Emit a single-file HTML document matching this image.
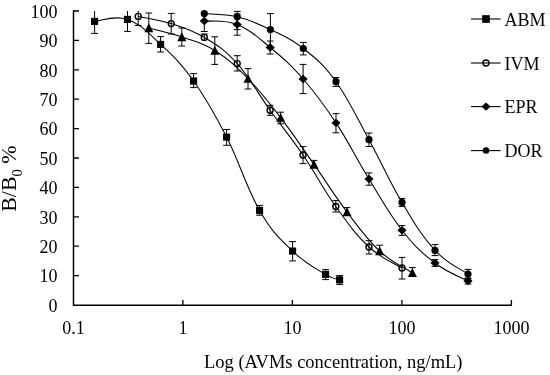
<!DOCTYPE html>
<html><head><meta charset="utf-8"><style>
html,body{margin:0;padding:0;background:#fff;}
svg{display:block;will-change:transform;}
text{font-family:"Liberation Serif",serif;font-size:18px;fill:#000;}
</style></head><body>
<svg width="550" height="375" viewBox="0 0 550 375">
<rect width="550" height="375" fill="#fff"/>
<g fill="none" stroke="#000" stroke-width="1.5">
<path d="M73.5,10.2V305.15H512.0" stroke-linejoin="miter"/>
</g>
<g fill="none" stroke="#000" stroke-width="1.3">
<path d="M73.5,275.60H79M73.5,246.20H79M73.5,216.80H79M73.5,187.40H79M73.5,158.00H79M73.5,128.60H79M73.5,99.20H79M73.5,69.80H79M73.5,40.40H79M73.5,11.00H79M182.90,305V300M292.40,305V300M401.90,305V300M511.40,305V300"/>
</g>
<g fill="none" stroke="#000" stroke-width="1.05">
<path d="M94.60,21.40 C101.18,21.00 114.30,14.80 127.50,19.40 C140.70,24.00 147.38,32.08 160.60,44.40 C173.82,56.72 180.40,62.46 193.60,81.00 C206.80,99.54 213.40,111.22 226.60,137.10 C239.80,162.98 246.40,187.60 259.60,210.40 C272.80,233.20 279.40,238.30 292.60,251.10 C305.80,263.90 316.20,268.66 325.60,274.40 C335.00,280.14 336.80,278.72 339.60,279.80"/>
<path d="M138.20,16.40 C144.80,17.84 157.98,19.40 171.20,23.60 C184.42,27.80 191.10,29.40 204.30,37.40 C217.50,45.40 224.04,49.02 237.20,63.60 C250.36,78.18 256.94,92.02 270.10,110.30 C283.26,128.58 289.86,135.76 303.00,155.00 C316.14,174.24 322.60,188.10 335.80,206.50 C349.00,224.90 355.76,234.70 369.00,247.00 C382.24,259.30 395.40,263.80 402.00,268.00"/>
<path d="M148.80,28.00 C155.40,29.80 168.60,32.50 181.80,37.00 C195.00,41.50 201.56,42.18 214.80,50.50 C228.04,58.82 234.84,65.18 248.00,78.60 C261.16,92.02 267.40,100.44 280.60,117.60 C293.80,134.76 300.72,145.52 314.00,164.40 C327.28,183.28 333.88,194.68 347.00,212.00 C360.12,229.32 366.52,238.84 379.60,251.00 C392.68,263.16 405.84,268.44 412.40,272.80"/>
<path d="M204.30,21.00 C210.88,21.72 224.02,19.30 237.20,24.60 C250.38,29.90 257.02,36.62 270.20,47.50 C283.38,58.38 289.94,63.92 303.10,79.00 C316.26,94.08 322.82,102.90 336.00,122.90 C349.18,142.90 355.80,157.54 369.00,179.00 C382.20,200.46 388.80,213.40 402.00,230.20 C415.20,247.00 421.80,252.84 435.00,263.00 C448.20,273.16 461.40,277.40 468.00,281.00"/>
<path d="M204.30,13.60 C210.88,14.24 223.98,13.60 237.20,16.80 C250.42,20.00 257.18,23.26 270.40,29.60 C283.62,35.94 290.18,38.08 303.30,48.50 C316.42,58.92 322.86,63.46 336.00,81.70 C349.14,99.94 355.80,115.56 369.00,139.70 C382.20,163.84 388.80,180.26 402.00,202.40 C415.20,224.54 421.80,236.08 435.00,250.40 C448.20,264.72 461.40,269.28 468.00,274.00"/>
</g>
<g fill="none" stroke="#000" stroke-width="1">
<path d="M94.60,11.00V33.40M91.20,33.40H98.00M127.50,11.00V31.40M124.10,31.40H130.90M160.60,36.60V52.00M157.20,36.60H164.00M157.20,52.00H164.00M193.60,73.60V87.60M190.20,73.60H197.00M190.20,87.60H197.00M226.60,129.50V145.30M223.20,129.50H230.00M223.20,145.30H230.00M259.60,205.40V215.20M256.20,205.40H263.00M256.20,215.20H263.00M292.60,241.60V260.90M289.20,241.60H296.00M289.20,260.90H296.00M325.60,269.60V279.60M322.20,269.60H329.00M322.20,279.60H329.00M339.60,275.60V284.40M336.20,275.60H343.00M336.20,284.40H343.00"/>
<path d="M138.20,11.00V25.40M134.80,25.40H141.60M171.20,13.40V34.00M167.80,13.40H174.60M167.80,34.00H174.60M204.30,34.00V40.80M200.90,34.00H207.70M237.20,55.70V71.00M233.80,55.70H240.60M233.80,71.00H240.60M270.10,105.30V115.30M266.70,105.30H273.50M266.70,115.30H273.50M303.00,146.60V163.60M299.60,146.60H306.40M299.60,163.60H306.40M335.80,200.60V212.00M332.40,200.60H339.20M332.40,212.00H339.20M369.00,240.60V254.00M365.60,240.60H372.40M365.60,254.00H372.40M402.00,257.40V279.00M398.60,257.40H405.40M398.60,279.00H405.40"/>
<path d="M148.80,13.00V43.40M145.40,13.00H152.20M145.40,43.40H152.20M181.80,28.00V46.00M178.40,28.00H185.20M178.40,46.00H185.20M214.80,36.80V64.40M211.40,36.80H218.20M211.40,64.40H218.20M248.00,68.60V89.00M244.60,68.60H251.40M244.60,89.00H251.40M280.60,112.20V123.80M277.20,112.20H284.00M277.20,123.80H284.00M314.00,160.40V168.00M310.60,160.40H317.40M347.00,207.60V215.50M343.60,207.60H350.40M379.60,245.20V255.00M376.20,245.20H383.00M412.40,267.60V276.50M409.00,267.60H415.80"/>
<path d="M204.30,11.00V31.50M200.90,31.50H207.70M237.20,14.00V35.20M233.80,14.00H240.60M233.80,35.20H240.60M270.20,41.00V54.00M266.80,41.00H273.60M266.80,54.00H273.60M303.10,64.40V93.60M299.70,64.40H306.50M299.70,93.60H306.50M336.00,113.60V132.80M332.60,113.60H339.40M332.60,132.80H339.40M369.00,172.90V185.20M365.60,172.90H372.40M365.60,185.20H372.40M402.00,225.60V235.40M398.60,225.60H405.40M398.60,235.40H405.40M435.00,259.60V266.40M431.60,259.60H438.40M431.60,266.40H438.40M468.00,278.00V284.00M464.60,278.00H471.40M464.60,284.00H471.40"/>
<path d="M204.30,12.00V15.20M237.20,11.40V29.60M233.80,11.40H240.60M233.80,29.60H240.60M270.40,13.60V45.60M267.00,13.60H273.80M303.30,42.40V54.90M299.90,42.40H306.70M299.90,54.90H306.70M336.00,77.50V86.40M332.60,77.50H339.40M332.60,86.40H339.40M369.00,133.00V146.50M365.60,133.00H372.40M365.60,146.50H372.40M402.00,198.40V206.40M398.60,198.40H405.40M398.60,206.40H405.40M435.00,244.60V255.60M431.60,244.60H438.40M431.60,255.60H438.40M468.00,269.40V278.60M464.60,269.40H471.40M464.60,278.60H471.40"/>
</g>
<rect x="91.05" y="17.85" width="7.10" height="7.10" fill="#000"/>
<rect x="123.95" y="15.85" width="7.10" height="7.10" fill="#000"/>
<rect x="157.05" y="40.85" width="7.10" height="7.10" fill="#000"/>
<rect x="190.05" y="77.45" width="7.10" height="7.10" fill="#000"/>
<rect x="223.05" y="133.55" width="7.10" height="7.10" fill="#000"/>
<rect x="256.05" y="206.85" width="7.10" height="7.10" fill="#000"/>
<rect x="289.05" y="247.55" width="7.10" height="7.10" fill="#000"/>
<rect x="322.05" y="270.85" width="7.10" height="7.10" fill="#000"/>
<rect x="336.05" y="276.25" width="7.10" height="7.10" fill="#000"/>
<circle cx="138.20" cy="16.40" r="3.0" fill="none" stroke="#000" stroke-width="1.4"/>
<circle cx="171.20" cy="23.60" r="3.0" fill="none" stroke="#000" stroke-width="1.4"/>
<circle cx="204.30" cy="37.40" r="3.0" fill="none" stroke="#000" stroke-width="1.4"/>
<circle cx="237.20" cy="63.60" r="3.0" fill="none" stroke="#000" stroke-width="1.4"/>
<circle cx="270.10" cy="110.30" r="3.0" fill="none" stroke="#000" stroke-width="1.4"/>
<circle cx="303.00" cy="155.00" r="3.0" fill="none" stroke="#000" stroke-width="1.4"/>
<circle cx="335.80" cy="206.50" r="3.0" fill="none" stroke="#000" stroke-width="1.4"/>
<circle cx="369.00" cy="247.00" r="3.0" fill="none" stroke="#000" stroke-width="1.4"/>
<circle cx="402.00" cy="268.00" r="3.0" fill="none" stroke="#000" stroke-width="1.4"/>
<path d="M148.80,23.30 L153.30,32.25 L144.30,32.25 Z" fill="#000"/>
<path d="M181.80,32.30 L186.30,41.25 L177.30,41.25 Z" fill="#000"/>
<path d="M214.80,45.80 L219.30,54.75 L210.30,54.75 Z" fill="#000"/>
<path d="M248.00,73.90 L252.50,82.85 L243.50,82.85 Z" fill="#000"/>
<path d="M280.60,112.90 L285.10,121.85 L276.10,121.85 Z" fill="#000"/>
<path d="M314.00,159.70 L318.50,168.65 L309.50,168.65 Z" fill="#000"/>
<path d="M347.00,207.30 L351.50,216.25 L342.50,216.25 Z" fill="#000"/>
<path d="M379.60,246.30 L384.10,255.25 L375.10,255.25 Z" fill="#000"/>
<path d="M412.40,268.10 L416.90,277.05 L407.90,277.05 Z" fill="#000"/>
<path d="M204.30,16.80 L208.90,21.00 L204.30,25.20 L199.70,21.00 Z" fill="#000"/>
<path d="M237.20,20.40 L241.80,24.60 L237.20,28.80 L232.60,24.60 Z" fill="#000"/>
<path d="M270.20,43.30 L274.80,47.50 L270.20,51.70 L265.60,47.50 Z" fill="#000"/>
<path d="M303.10,74.80 L307.70,79.00 L303.10,83.20 L298.50,79.00 Z" fill="#000"/>
<path d="M336.00,118.70 L340.60,122.90 L336.00,127.10 L331.40,122.90 Z" fill="#000"/>
<path d="M369.00,174.80 L373.60,179.00 L369.00,183.20 L364.40,179.00 Z" fill="#000"/>
<path d="M402.00,226.00 L406.60,230.20 L402.00,234.40 L397.40,230.20 Z" fill="#000"/>
<path d="M435.00,258.80 L439.60,263.00 L435.00,267.20 L430.40,263.00 Z" fill="#000"/>
<path d="M468.00,276.80 L472.60,281.00 L468.00,285.20 L463.40,281.00 Z" fill="#000"/>
<circle cx="204.30" cy="13.60" r="3.60" fill="#000"/>
<circle cx="237.20" cy="16.80" r="3.60" fill="#000"/>
<circle cx="270.40" cy="29.60" r="3.60" fill="#000"/>
<circle cx="303.30" cy="48.50" r="3.60" fill="#000"/>
<circle cx="336.00" cy="81.70" r="3.60" fill="#000"/>
<circle cx="369.00" cy="139.70" r="3.60" fill="#000"/>
<circle cx="402.00" cy="202.40" r="3.60" fill="#000"/>
<circle cx="435.00" cy="250.40" r="3.60" fill="#000"/>
<circle cx="468.00" cy="274.00" r="3.60" fill="#000"/>
<text x="57.6" y="311.70" text-anchor="end">0</text>
<text x="57.6" y="282.30" text-anchor="end">10</text>
<text x="57.6" y="252.90" text-anchor="end">20</text>
<text x="57.6" y="223.50" text-anchor="end">30</text>
<text x="57.6" y="194.10" text-anchor="end">40</text>
<text x="57.6" y="164.70" text-anchor="end">50</text>
<text x="57.6" y="135.30" text-anchor="end">60</text>
<text x="57.6" y="105.90" text-anchor="end">70</text>
<text x="57.6" y="76.50" text-anchor="end">80</text>
<text x="57.6" y="47.10" text-anchor="end">90</text>
<text x="57.6" y="17.70" text-anchor="end">100</text>
<text x="73.40" y="334" text-anchor="middle">0.1</text>
<text x="182.90" y="334" text-anchor="middle">1</text>
<text x="292.40" y="334" text-anchor="middle">10</text>
<text x="401.90" y="334" text-anchor="middle">100</text>
<text x="511.40" y="334" text-anchor="middle">1000</text>
<text x="204" y="368" textLength="258.5" lengthAdjust="spacingAndGlyphs">Log (AVMs concentration, ng/mL)</text>
<text transform="translate(16.3,211.8) rotate(-90) scale(1.045,1)" style="font-size:21px">B/B<tspan style="font-size:14px" dy="5.6">0</tspan><tspan dy="-5.6"> %</tspan></text>
<path d="M471,19H500.6" stroke="#000" stroke-width="1.1" fill="none"/>
<rect x="482.17" y="15.17" width="7.67" height="7.67" fill="#000"/>
<text x="504.5" y="25.70">ABM</text>
<path d="M471,63H500.6" stroke="#000" stroke-width="1.1" fill="none"/>
<circle cx="486.00" cy="63.00" r="3.0" fill="none" stroke="#000" stroke-width="1.4"/>
<text x="504.5" y="69.70">IVM</text>
<path d="M471,106.6H500.6" stroke="#000" stroke-width="1.1" fill="none"/>
<path d="M486.00,102.40 L490.60,106.60 L486.00,110.80 L481.40,106.60 Z" fill="#000"/>
<text x="504.5" y="113.30">EPR</text>
<path d="M471,150.6H500.6" stroke="#000" stroke-width="1.1" fill="none"/>
<circle cx="486.00" cy="150.60" r="3.24" fill="#000"/>
<text x="504.5" y="157.30">DOR</text>
</svg>
</body></html>
